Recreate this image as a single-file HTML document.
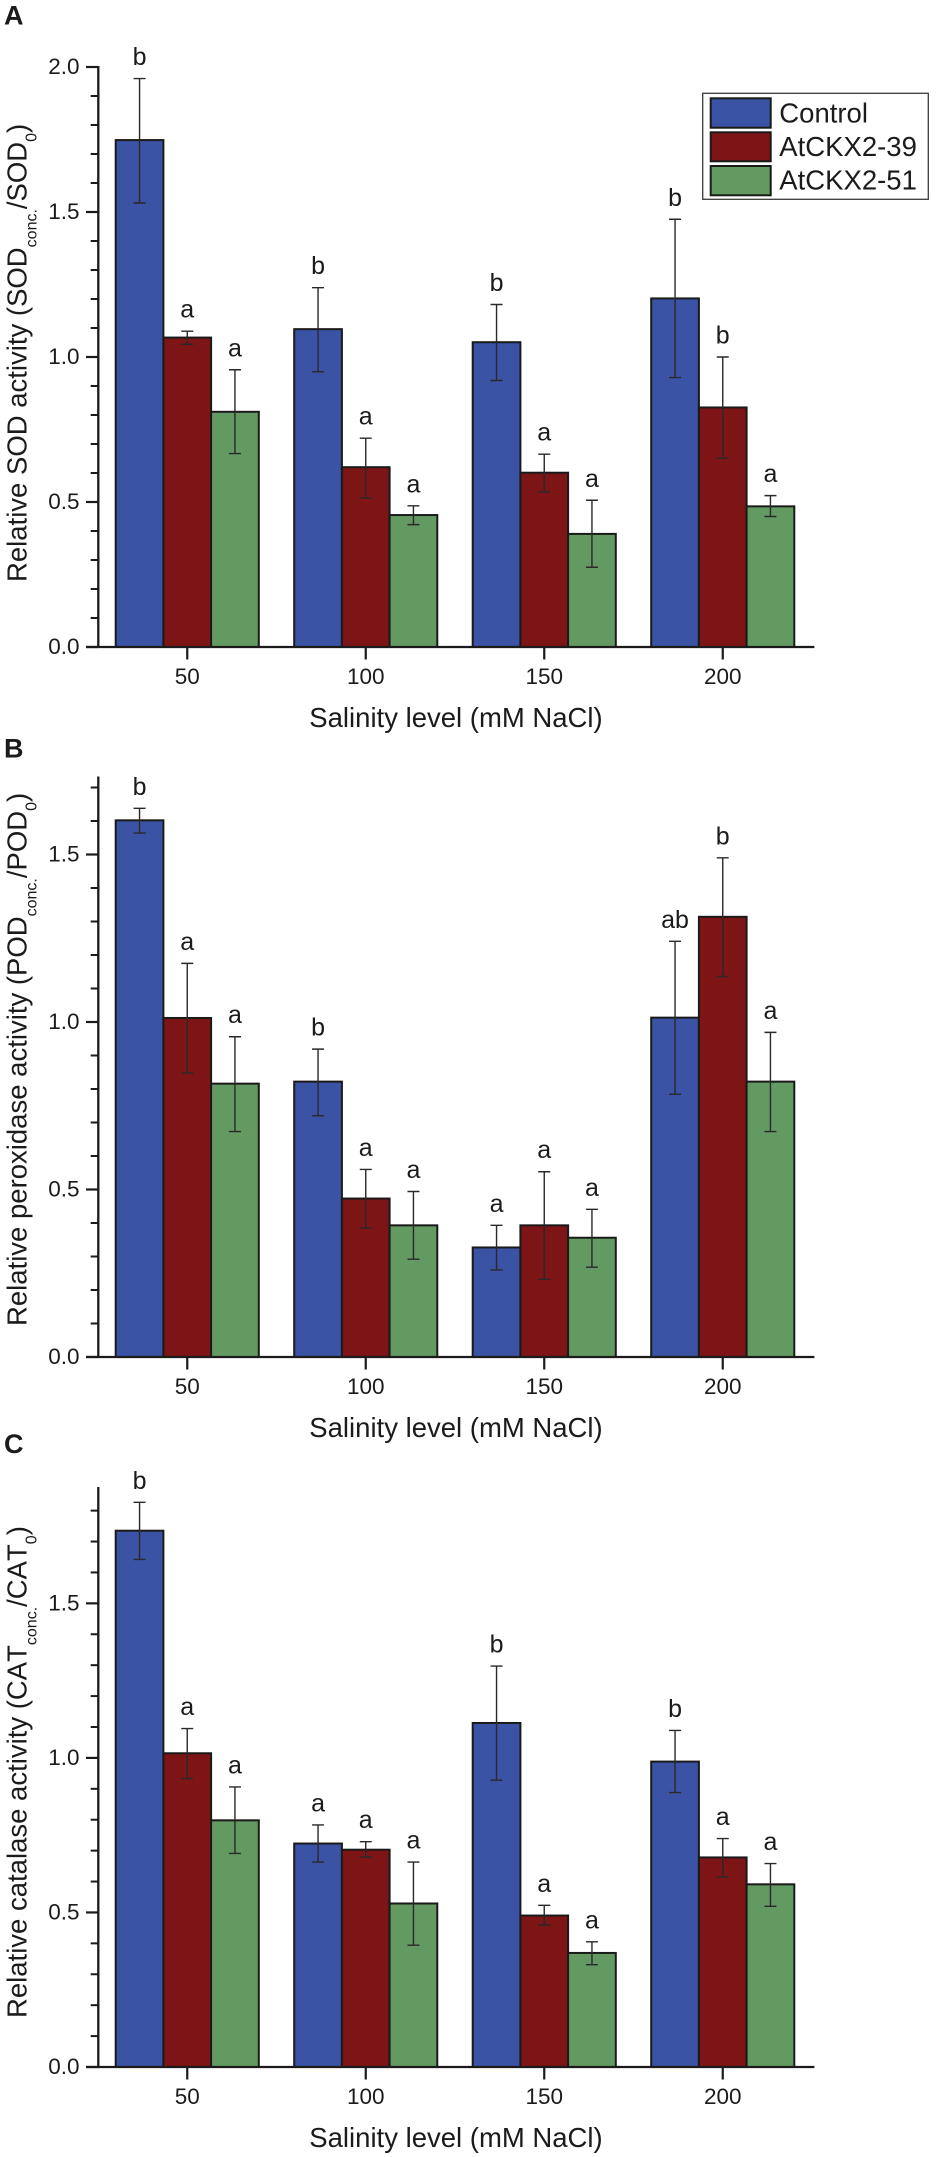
<!DOCTYPE html>
<html lang="en">
<head>
<meta charset="utf-8">
<title>Relative antioxidant enzyme activity under salinity</title>
<style>
html,body{margin:0;padding:0;background:#fff;}
svg{display:block;font-family:"Liberation Sans",Arial,sans-serif;filter:blur(0.3px);}
text{fill:#1c1a1b;}
</style>
</head>
<body>
<svg id="figure" xmlns="http://www.w3.org/2000/svg" width="945" height="2157" viewBox="0 0 945 2157">
  <rect x="0" y="0" width="945" height="2157" fill="#fff"/>

  <text x="4" y="24.5" font-size="27" font-weight="bold" fill="#000">A</text>
  <text x="4" y="757.5" font-size="27" font-weight="bold" fill="#000">B</text>
  <text x="4" y="1453" font-size="27" font-weight="bold" fill="#000">C</text>

  <text transform="translate(26.5 582) rotate(-90)" font-size="27.5">Relative SOD activity (SOD<tspan dy="10" font-size="16">conc.</tspan><tspan dy="-10">/SOD</tspan><tspan dy="10" font-size="16">0</tspan><tspan dy="-10">)</tspan></text>
  <text transform="translate(26.5 1326) rotate(-90)" font-size="27.5">Relative peroxidase activity (POD<tspan dy="10" font-size="16">conc.</tspan><tspan dy="-10">/POD</tspan><tspan dy="10" font-size="16">0</tspan><tspan dy="-10">)</tspan></text>
  <text transform="translate(26.5 2018) rotate(-90)" font-size="27.5" style="font-kerning:none">Relative catalase activity (CAT<tspan dy="10" font-size="16">conc.</tspan><tspan dy="-10">/CAT</tspan><tspan dy="10" font-size="16">0</tspan><tspan dy="-10">)</tspan></text>

  <text x="456" y="727" font-size="27.5" text-anchor="middle">Salinity level (mM NaCl)</text>
  <text x="456" y="1437" font-size="27.5" text-anchor="middle">Salinity level (mM NaCl)</text>
  <text x="456" y="2147" font-size="27.5" text-anchor="middle">Salinity level (mM NaCl)</text>

  <g id="chart-a"></g>
  <g id="chart-b"></g>
  <g id="chart-c"></g>

  <g>
    <rect x="702.7" y="93.3" width="225.6" height="106" fill="#fff" stroke="#3a3a3a" stroke-width="1.3"/>
    <rect x="710.7" y="98.3" width="60" height="29.4" fill="#3a53a4" stroke="#1a1a1a" stroke-width="2"/>
    <text x="779.3" y="122.3" font-size="27.5">Control</text>
    <rect x="710.7" y="132.3" width="60" height="29" fill="#7d1416" stroke="#1a1a1a" stroke-width="2"/>
    <text x="779.3" y="156" font-size="27.5">AtCKX2-39</text>
    <rect x="710.7" y="166" width="60" height="29.3" fill="#639a62" stroke="#1a1a1a" stroke-width="2"/>
    <text x="779.3" y="189.3" font-size="27.5">AtCKX2-51</text>
  </g>
</svg>

<script>
const categories = ["50", "100", "150", "200"];
const seriesNames = ["control", "atckx2-39", "atckx2-51"];
const seriesColors = ["#3a53a4", "#7d1416", "#639a62"];

const sodTickLabels = ["0.0", "0.5", "1.0", "1.5", "2.0"];
const sodControl = [1.748, 1.096, 1.051, 1.202];
const sodControlHigh = [1.96, 1.239, 1.181, 1.475];
const sodControlLow = [1.531, 0.949, 0.919, 0.929];
const sodControlLetters = ["b", "b", "b", "b"];
const sodLine39 = [1.067, 0.62, 0.601, 0.826];
const sodLine39High = [1.089, 0.72, 0.665, 1.0];
const sodLine39Low = [1.044, 0.514, 0.535, 0.651];
const sodLine39Letters = ["a", "a", "a", "b"];
const sodLine51 = [0.811, 0.455, 0.39, 0.485];
const sodLine51High = [0.956, 0.487, 0.506, 0.522];
const sodLine51Low = [0.667, 0.422, 0.275, 0.45];
const sodLine51Letters = ["a", "a", "a", "a"];

const podTickLabels = ["0.0", "0.5", "1.0", "1.5"];
const podControl = [1.602, 0.822, 0.327, 1.013];
const podControlHigh = [1.638, 0.919, 0.393, 1.241];
const podControlLow = [1.564, 0.72, 0.26, 0.784];
const podControlLetters = ["b", "b", "a", "ab"];
const podLine39 = [1.012, 0.473, 0.393, 1.314];
const podLine39High = [1.175, 0.56, 0.553, 1.49];
const podLine39Low = [0.848, 0.385, 0.232, 1.136];
const podLine39Letters = ["a", "a", "a", "b"];
const podLine51 = [0.816, 0.393, 0.356, 0.822];
const podLine51High = [0.956, 0.494, 0.441, 0.969];
const podLine51Low = [0.673, 0.292, 0.268, 0.673];
const podLine51Letters = ["a", "a", "a", "a"];

const catTickLabels = ["0.0", "0.5", "1.0", "1.5"];
const catControl = [1.735, 0.723, 1.113, 0.988];
const catControlHigh = [1.827, 0.783, 1.297, 1.089];
const catControlLow = [1.642, 0.663, 0.928, 0.888];
const catControlLetters = ["b", "a", "b", "b"];
const catLine39 = [1.015, 0.703, 0.49, 0.678];
const catLine39High = [1.095, 0.729, 0.523, 0.739];
const catLine39Low = [0.933, 0.679, 0.459, 0.615];
const catLine39Letters = ["a", "a", "a", "a"];
const catLine51 = [0.798, 0.529, 0.369, 0.591];
const catLine51High = [0.906, 0.663, 0.405, 0.658];
const catLine51Low = [0.691, 0.394, 0.331, 0.52];
const catLine51Letters = ["a", "a", "a", "a"];

const SVG_NS = "http://www.w3.org/2000/svg";
const INK = "#1c1a1b";

function shape(parent, tag, attrs) {
  const node = document.createElementNS(SVG_NS, tag);
  for (const key in attrs) node.setAttribute(key, attrs[key]);
  parent.appendChild(node);
  return node;
}

function groupX(groupIndex) { return 115.7 + 178.5 * groupIndex; }
function barLeft(groupIndex, seriesIndex) { return groupX(groupIndex) + 47.7 * seriesIndex; }
function barCenter(groupIndex, seriesIndex) { return barLeft(groupIndex, seriesIndex) + 47.7 / 2; }
function tickX(groupIndex) { return groupX(groupIndex) + 47.7 * 1.5; }

function drawChart(rootId, key, baseY, pxPerUnit, axisMax, tickLabels, valueSets, highSets, lowSets, letterSets) {
  const root = document.getElementById(rootId);
  const yOf = function (v) { return baseY - v * pxPerUnit; };
  const axisX = 98.3;

  valueSets.forEach(function (values, s) {
    values.forEach(function (v, g) {
      const bar = shape(root, "rect", {
        x: barLeft(g, s), y: yOf(v), width: 47.7, height: baseY - yOf(v),
        fill: seriesColors[s], stroke: "#1a1a1a", "stroke-width": 2
      });
      
      
    });
  });

  valueSets.forEach(function (values, s) {
    values.forEach(function (v, g) {
      const cx = barCenter(g, s);
      const top = yOf(highSets[s][g]);
      const bottom = yOf(lowSets[s][g]);
      const err = shape(root, "path", {
        d: "M" + cx + " " + top + "V" + bottom +
           "M" + (cx - 6) + " " + top + "H" + (cx + 6) +
           "M" + (cx - 6) + " " + bottom + "H" + (cx + 6),
        fill: "none", stroke: "#2a2829", "stroke-width": 1.4
      });
      
      
      const letter = shape(root, "text", {
        x: cx, y: top - 13.5, "font-size": 25, "text-anchor": "middle"
      });
      letter.textContent = letterSets[s][g];
      
      
    });
  });

  const yAxis = shape(root, "line", {
    x1: axisX, x2: axisX, y1: yOf(axisMax) - 1, y2: baseY + 1, stroke: INK, "stroke-width": 2.3
  });
  
  

  const xAxis = shape(root, "line", {
    x1: 86, x2: 814.4, y1: baseY, y2: baseY, stroke: INK, "stroke-width": 2.3
  });
  
  

  for (let n = 1; n / 10 <= axisMax + 0.001; n++) {
    if (n % 5 === 0) continue;
    const minor = shape(root, "line", {
      x1: 90.7, x2: axisX, y1: yOf(n / 10), y2: yOf(n / 10), stroke: INK, "stroke-width": 2
    });
    
    
  }

  tickLabels.forEach(function (label) {
    const v = parseFloat(label);
    const major = shape(root, "line", {
      x1: 86, x2: axisX, y1: yOf(v), y2: yOf(v), stroke: INK, "stroke-width": 2.2
    });
    
    
    const text = shape(root, "text", {
      x: 79.5, y: yOf(v) + 7.2, "font-size": 22.5, "text-anchor": "end"
    });
    text.textContent = label;
    
    
  });

  categories.forEach(function (label, g) {
    const tick = shape(root, "line", {
      x1: tickX(g), x2: tickX(g), y1: baseY, y2: baseY + 12.5, stroke: INK, "stroke-width": 2.2
    });
    
    
    const text = shape(root, "text", {
      x: tickX(g), y: baseY + 36.8, "font-size": 22.5, "text-anchor": "middle"
    });
    text.textContent = label;
    
    
  });
}

drawChart("chart-a", "sod", 647, 290, 2.0, sodTickLabels,
  [sodControl, sodLine39, sodLine51],
  [sodControlHigh, sodLine39High, sodLine51High],
  [sodControlLow, sodLine39Low, sodLine51Low],
  [sodControlLetters, sodLine39Letters, sodLine51Letters]);

drawChart("chart-b", "pod", 1357, 335, 1.73, podTickLabels,
  [podControl, podLine39, podLine51],
  [podControlHigh, podLine39High, podLine51High],
  [podControlLow, podLine39Low, podLine51Low],
  [podControlLetters, podLine39Letters, podLine51Letters]);

drawChart("chart-c", "cat", 2067, 309.1, 1.873, catTickLabels,
  [catControl, catLine39, catLine51],
  [catControlHigh, catLine39High, catLine51High],
  [catControlLow, catLine39Low, catLine51Low],
  [catControlLetters, catLine39Letters, catLine51Letters]);
</script>
</body>
</html>
